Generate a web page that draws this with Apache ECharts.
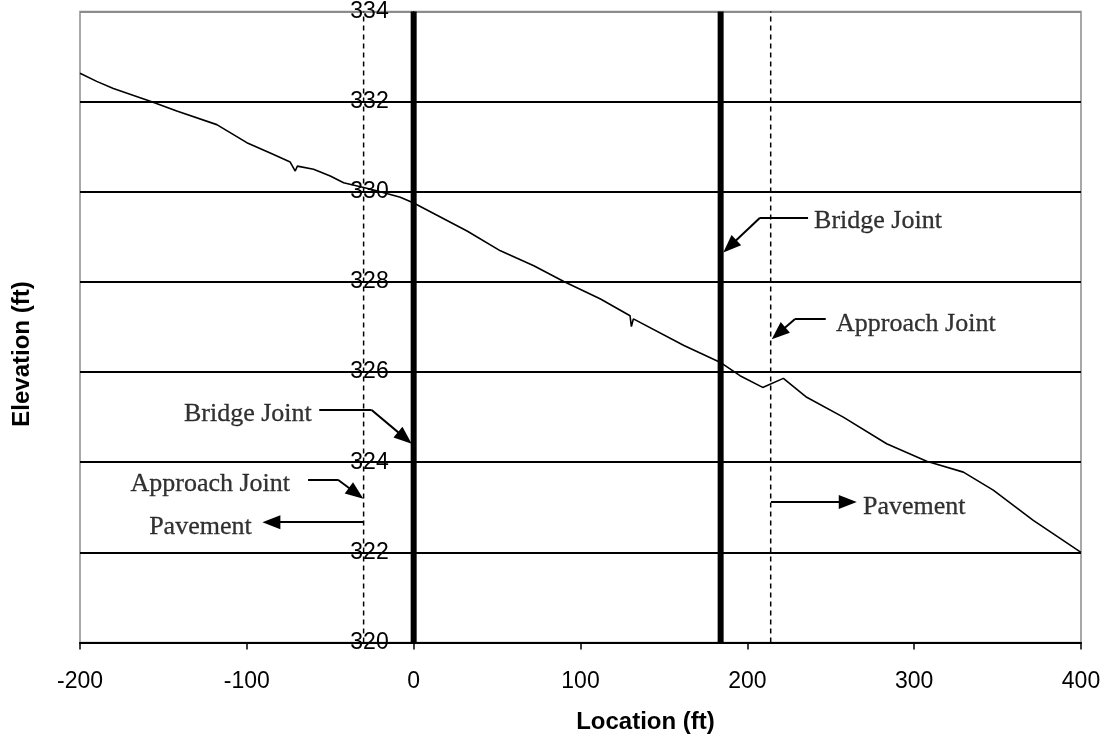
<!DOCTYPE html>
<html>
<head>
<meta charset="utf-8">
<script src="https://cdn.jsdelivr.net/npm/echarts@6/dist/echarts.min.js"></script>
<style>
  html, body { margin: 0; padding: 0; background: #fff; }
  #main { width: 1108px; height: 740px; }
</style>
</head>
<body>
<div id="main"></div>
<script>
// profile of the road surface
var locations  = [-200, -190, -180, -157, -142, -118, -100, -86, -74, -71, -69.7, -60, -50, -42, -25, -8, 0,
                  32, 52, 72, 90, 112, 129.7, 130.5, 131.7, 162, 183.6, 195.6, 209.2, 221.6, 235.6,
                  257.5, 283.5, 307.5, 329.5, 347.4, 371.4, 400];
var elevations = [332.63, 332.45, 332.29, 332.0, 331.79, 331.49, 331.09, 330.86, 330.66, 330.46, 330.57, 330.5, 330.35, 330.2, 330.05, 329.88, 329.75,
                  329.13, 328.69, 328.36, 328.01, 327.62, 327.25, 327.01, 327.18, 326.59, 326.22, 325.92, 325.66, 325.86, 325.44,
                  325.0, 324.41, 324.02, 323.78, 323.38, 322.71, 322.0];

var bridgeJoints = [0, 184];
var approachJoints = [-30, 214];

var xTicks = [-200, -100, 0, 100, 200, 300, 400];
var yTicks = [320, 322, 324, 326, 328, 330, 332, 334];

// annotation texts
var noteText = ['Bridge Joint', 'Approach Joint', 'Bridge Joint', 'Approach Joint', 'Pavement', 'Pavement'];
var noteX    = [240.0, 253.2, -61.1, -74.1, -97.1, 269.3];
var noteY    = [329.35, 327.07, 325.07, 323.52, 322.56, 323.01];
var noteSide = ['right', 'right', 'left', 'left', 'left', 'right'];

// leader lines: [x1, y1, x2, y2, arrow at end?]
var leaders = [
  [236.4, 329.425, 207.6, 329.425, 0], [207.6, 329.425, 189.5, 328.79, 1],
  [247.0, 327.18, 228.6, 327.18, 0],   [228.6, 327.18, 218.7, 326.86, 1],
  [-56.6, 325.16, -25.2, 325.16, 0],   [-25.2, 325.16, -5.3, 324.54, 1],
  [-63.3, 323.61, -45.4, 323.61, 0],   [-45.4, 323.61, -34.5, 323.31, 1],
  [-30.2, 322.67, -85.3, 322.67, 1],
  [214.2, 323.12, 260.2, 323.12, 1]
];

var profile = [];
for (var i = 0; i < locations.length; i++) {
  profile.push([locations[i], elevations[i]]);
}

var series = [];

// vertical joint lines
for (var b = 0; b < bridgeJoints.length; b++) {
  series.push({
    type: 'line', silent: true, symbol: 'none', z: 3,
    data: [[bridgeJoints[b], yTicks[0]], [bridgeJoints[b], yTicks[yTicks.length - 1]]],
    lineStyle: { color: '#000', width: 6 }
  });
}
for (var a = 0; a < approachJoints.length; a++) {
  series.push({
    type: 'line', silent: true, symbol: 'none', z: 3,
    data: [[approachJoints[a], yTicks[0]], [approachJoints[a], yTicks[yTicks.length - 1]]],
    lineStyle: { color: '#000', width: 1.5, type: [5, 4] }
  });
}

var mlData = [];
for (var k = 0; k < leaders.length; k++) {
  var L = leaders[k];
  mlData.push([
    { coord: [L[0], L[1]], symbol: 'none' },
    { coord: [L[2], L[3]], symbol: L[4] ? 'triangle' : 'none', symbolSize: [14, 18] }
  ]);
}

series.push({
  name: 'Elevation',
  type: 'line',
  symbol: 'none',
  z: 4,
  data: profile,
  lineStyle: { color: '#000', width: 1.6 },
  markLine: {
    silent: true,
    animation: false,
    symbol: ['none', 'none'],
    label: { show: false },
    lineStyle: { color: '#000', width: 2, type: 'solid' },
    emphasis: { disabled: true },
    data: mlData
  }
});

var notes = [];
for (var n = 0; n < noteText.length; n++) {
  notes.push({
    value: [noteX[n], noteY[n]],
    name: noteText[n],
    label: { position: noteSide[n] }
  });
}
series.push({
  type: 'scatter',
  silent: true,
  symbolSize: 0,
  z: 5,
  data: notes,
  label: {
    show: true,
    distance: 0,
    formatter: '{b}',
    color: '#000',
    textBorderColor: '#000',
    textBorderWidth: 0.3,
    fontFamily: 'Liberation Serif',
    fontSize: 26
  }
});

var splitColors = [];
for (var s = 0; s < yTicks.length - 1; s++) splitColors.push('#000');
splitColors.push('#8c8c8c');

var myChart = echarts.init(document.getElementById('main'));
var option = {
  animation: false,
  backgroundColor: '#fff',
  grid: {
    left: 80, top: 10, right: 27, bottom: 97.5,
    show: true, borderColor: '#8c8c8c', borderWidth: 1.5
  },
  xAxis: {
    type: 'value',
    min: xTicks[0], max: xTicks[xTicks.length - 1], interval: 100,
    name: 'Location (ft)',
    nameLocation: 'middle',
    nameGap: 68,
    nameTextStyle: {
      color: '#000', fontFamily: 'Liberation Sans', fontWeight: 'bold', fontSize: 24,
      padding: [0, 0, 0, 130]
    },
    axisLine: { lineStyle: { color: '#000', width: 2 } },
    axisTick: { show: true, length: 7, lineStyle: { color: '#000', width: 1.5 } },
    axisLabel: { color: '#000', fontFamily: 'Liberation Sans', fontSize: 23, margin: 28 },
    splitLine: { show: false }
  },
  yAxis: {
    type: 'value',
    min: yTicks[0], max: yTicks[yTicks.length - 1], interval: 2,
    offset: -333.7,   // axis crosses at location 0
    axisLine: { show: true, onZero: false, lineStyle: { color: '#000' } },
    axisTick: { show: false },
    axisLabel: {
      color: '#000', fontFamily: 'Liberation Sans', fontSize: 23, margin: 25,
      padding: [8, 0, 0, 0]
    },
    splitLine: { show: true, lineStyle: { color: splitColors, width: 2 } }
  },
  graphic: [{
    type: 'text',
    x: 22, y: 354,
    rotation: Math.PI / 2,
    style: {
      text: 'Elevation (ft)',
      fill: '#000',
      font: 'bold 24px "Liberation Sans"',
      textAlign: 'center',
      textVerticalAlign: 'middle'
    }
  }],
  series: series
};
myChart.setOption(option);
</script>
</body>
</html>
